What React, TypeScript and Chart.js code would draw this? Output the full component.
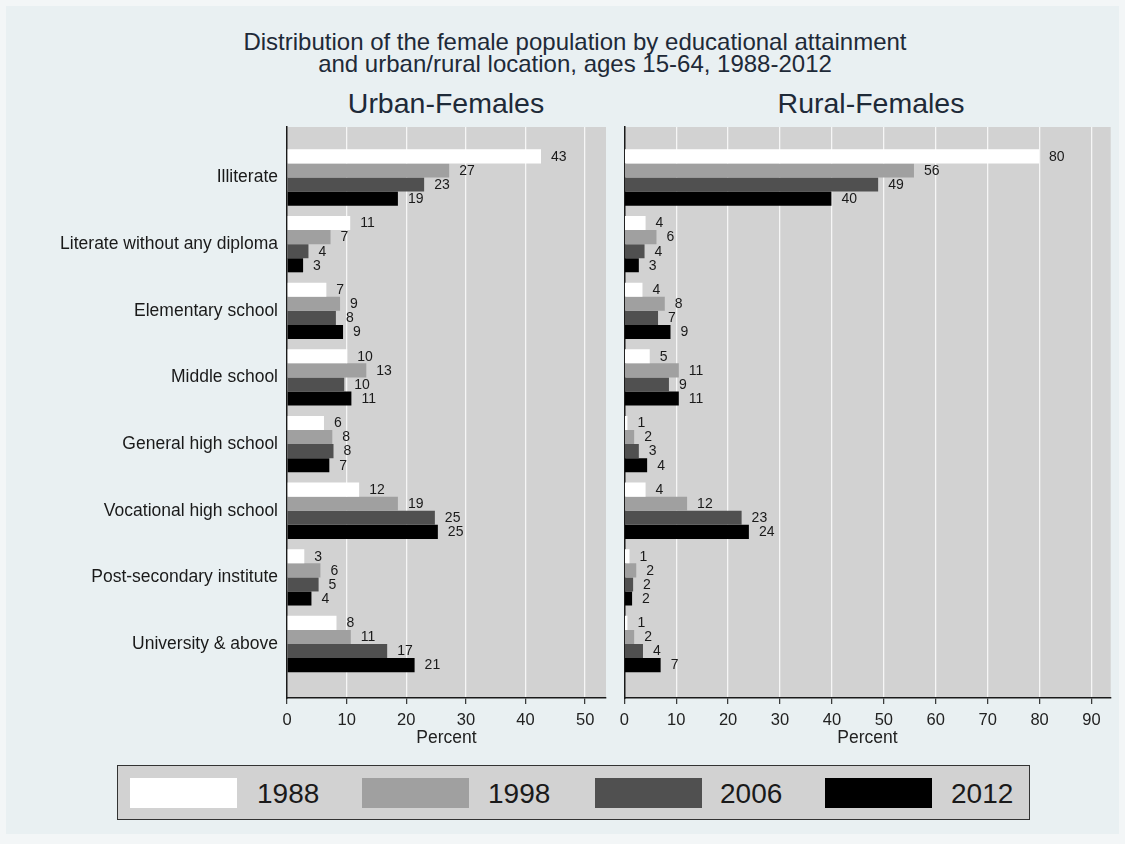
import React, { useEffect, useRef } from "react";
import { Chart, registerables } from "chart.js";

Chart.register(...registerables);

// ---------- data ----------
const CATEGORIES = [
  "Illiterate",
  "Literate without any diploma",
  "Elementary school",
  "Middle school",
  "General high school",
  "Vocational high school",
  "Post-secondary institute",
  "University & above",
];
const YEARS = ["1988", "1998", "2006", "2012"];

const URBAN_1988 = [42.6, 10.6, 6.6, 10.1, 6.2, 12.1, 2.9, 8.3];
const URBAN_1998 = [27.2, 7.3, 8.9, 13.3, 7.6, 18.6, 5.6, 10.7];
const URBAN_2006 = [23.0, 3.6, 8.2, 9.6, 7.8, 24.8, 5.3, 16.8];
const URBAN_2012 = [18.6, 2.7, 9.4, 10.8, 7.1, 25.3, 4.1, 21.4];

const RURAL_1988 = [79.9, 4.1, 3.5, 4.9, 0.6, 4.1, 1.0, 0.6];
const RURAL_1998 = [55.8, 6.2, 7.8, 10.5, 1.9, 12.1, 2.3, 1.9];
const RURAL_2006 = [48.9, 3.9, 6.5, 8.6, 2.8, 22.6, 1.7, 3.6];
const RURAL_2012 = [39.9, 2.8, 8.9, 10.5, 4.4, 24.0, 1.5, 7.0];

const URBAN_TICKS = [0, 10, 20, 30, 40, 50];
const RURAL_TICKS = [0, 10, 20, 30, 40, 50, 60, 70, 80, 90];

const TITLE_LINES = [
  "Distribution of the female population by educational attainment",
  "and urban/rural location, ages 15-64, 1988-2012",
];
const PANEL_TITLES = ["Urban-Females", "Rural-Females"];
const X_TITLE = "Percent";

// ---------- styles ----------
const W = 1125;
const H = 844;
const FONT = '"Liberation Sans", Arial, sans-serif';
const COLORS = ["#ffffff", "#a0a0a0", "#505050", "#000000"];
const PLOT_BG = "#d2d2d2";
const PLOT_TOP = 127;
const PLOT_BOTTOM = 698;
const XAXIS_H = 51;

const bgPlugin = {
  id: "plotBg",
  beforeDraw(chart: any) {
    const { ctx, chartArea } = chart;
    ctx.save();
    ctx.fillStyle = PLOT_BG;
    ctx.fillRect(chartArea.left, chartArea.top, chartArea.right - chartArea.left, chartArea.bottom - chartArea.top);
    ctx.restore();
  },
};

const valueLabelPlugin = {
  id: "valueLabels",
  afterDatasetsDraw(chart: any) {
    const ctx = chart.ctx;
    ctx.save();
    ctx.font = `14px ${FONT}`;
    ctx.fillStyle = "#1a1a1a";
    ctx.textBaseline = "middle";
    ctx.textAlign = "left";
    chart.data.datasets.forEach((ds: any, k: number) => {
      const meta = chart.getDatasetMeta(k);
      meta.data.forEach((bar: any, i: number) => {
        const v = ds.data[i].x;
        ctx.fillText(String(Math.round(v)), bar.x + 10, bar.y + 0.5);
      });
    });
    ctx.restore();
  },
};

function buildConfig(
  series: number[][],
  ticks: number[],
  xMax: number,
  plotLeft: number,
  plotRight: number,
  showLabels: boolean
): any {
  return {
    type: "bar",
    data: {
      datasets: YEARS.map((year, k) => ({
        label: year,
        data: series[k].map((v, i) => ({ x: v, y: i })),
        backgroundColor: COLORS[k],
        borderWidth: 0,
        categoryPercentage: 0.845,
        barPercentage: 1.0,
      })),
    },
    options: {
      indexAxis: "y",
      responsive: false,
      animation: false,
      devicePixelRatio: 1,
      layout: {
        padding: { left: 0, top: PLOT_TOP, right: W - plotRight, bottom: H - PLOT_BOTTOM - XAXIS_H },
      },
      plugins: {
        legend: { display: false },
        tooltip: { enabled: false },
        title: { display: false },
      },
      scales: {
        x: {
          type: "linear",
          position: "bottom",
          min: 0,
          max: xMax,
          offset: false,
          afterBuildTicks: (s: any) => {
            s.ticks = ticks.map((v) => ({ value: v }));
          },
          afterFit: (s: any) => {
            s.height = XAXIS_H;
          },
          grid: {
            color: (c: any) => (c.tick && c.tick.value === 0 ? "rgba(0,0,0,0)" : "#f6f6f6"),
            lineWidth: 1.3,
            tickColor: "#333333",
            tickLength: 6,
            tickWidth: 1.2,
          },
          border: { display: true, color: "#1a1a1a", width: 1.5 },
          ticks: {
            color: "#222222",
            font: { family: FONT, size: 16.5 },
            padding: 7,
            autoSkip: false,
            maxRotation: 0,
            callback: (v: any) => String(v),
          },
          title: {
            display: true,
            text: X_TITLE,
            color: "#222222",
            font: { family: FONT, size: 17.5 },
            padding: 0,
          },
        },
        y: {
          type: "linear",
          position: "left",
          reverse: true,
          offset: false,
          min: -0.758,
          max: 7.81,
          afterBuildTicks: (s: any) => {
            s.ticks = CATEGORIES.map((_, i) => ({ value: i }));
          },
          afterFit: (s: any) => {
            s.width = plotLeft;
          },
          grid: { display: false, drawTicks: false, tickLength: 0, offset: false },
          border: { display: true, color: "#1a1a1a", width: 1.5 },
          ticks: {
            display: showLabels,
            autoSkip: false,
            padding: 9,
            color: "#1a1a1a",
            font: { family: FONT, size: 17.5 },
            callback: (_v: any, idx: number) => CATEGORIES[idx],
          },
        },
      },
    },
    plugins: [bgPlugin, valueLabelPlugin],
  };
}

export default function App() {
  const leftRef = useRef<HTMLCanvasElement | null>(null);
  const rightRef = useRef<HTMLCanvasElement | null>(null);

  useEffect(() => {
    const left = new Chart(
      leftRef.current as HTMLCanvasElement,
      buildConfig([URBAN_1988, URBAN_1998, URBAN_2006, URBAN_2012], URBAN_TICKS, 53.5, 287, 606, true)
    );
    const right = new Chart(
      rightRef.current as HTMLCanvasElement,
      buildConfig([RURAL_1988, RURAL_1998, RURAL_2006, RURAL_2012], RURAL_TICKS, 93.7, 624.3, 1110.7, false)
    );
    return () => {
      left.destroy();
      right.destroy();
    };
  }, []);

  const canvasStyle: React.CSSProperties = { position: "absolute", left: 0, top: 0, width: W, height: H };
  const legendX = [130, 362, 595, 825];
  const legendTextX = [257, 488, 720, 951];

  return (
    <div style={{ position: "fixed", left: 0, top: 0, width: W, height: H, background: "#f3f6f7", overflow: "hidden", fontFamily: FONT }}>
      <div style={{ position: "absolute", left: 6, top: 6, width: W - 12, height: H - 16, background: "#e9f0f2" }} />
      {TITLE_LINES.map((t, i) => (
        <div
          key={t}
          style={{
            position: "absolute",
            left: 0,
            width: 1150,
            top: 30 + i * 21.5,
            textAlign: "center",
            fontSize: 24,
            lineHeight: "24px",
            color: "#1e2a38",
            whiteSpace: "nowrap",
          }}
        >
          {t}
        </div>
      ))}
      {PANEL_TITLES.map((t, i) => (
        <div
          key={t}
          style={{
            position: "absolute",
            left: (i === 0 ? 446 : 871) - 200,
            width: 400,
            top: 89,
            textAlign: "center",
            fontSize: 28.5,
            lineHeight: "28.5px",
            color: "#1e2a38",
            whiteSpace: "nowrap",
          }}
        >
          {t}
        </div>
      ))}
      <canvas ref={leftRef} width={W} height={H} style={canvasStyle} />
      <canvas ref={rightRef} width={W} height={H} style={canvasStyle} />
      <div
        style={{
          position: "absolute",
          left: 117,
          top: 765,
          width: 913,
          height: 55,
          boxSizing: "border-box",
          border: "1.5px solid #333",
          background: PLOT_BG,
        }}
      />
      {YEARS.map((y, k) => (
        <React.Fragment key={y}>
          <div
            style={{
              position: "absolute",
              left: legendX[k],
              top: 778,
              width: 107,
              height: 30,
              background: COLORS[k],
            }}
          />
          <div
            style={{
              position: "absolute",
              left: legendTextX[k],
              top: 780,
              fontSize: 28,
              lineHeight: "28px",
              color: "#1a1a1a",
              whiteSpace: "nowrap",
            }}
          >
            {y}
          </div>
        </React.Fragment>
      ))}
    </div>
  );
}
